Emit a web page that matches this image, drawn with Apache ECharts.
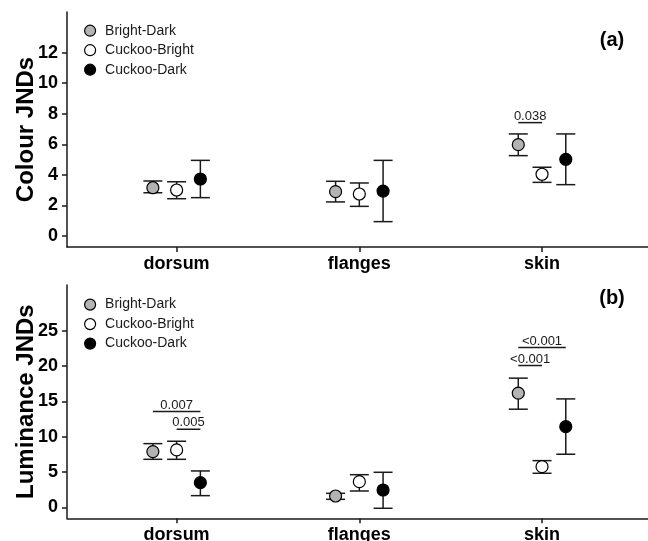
<!DOCTYPE html>
<html>
<head>
<meta charset="utf-8">
<script src="https://cdn.jsdelivr.net/npm/echarts@6/dist/echarts.min.js"></script>
<style>
html,body{margin:0;padding:0;background:#fff;}
#chart{width:648px;height:541px;}
</style>
</head>
<body>
<div id="chart"></div>
<script>
// ---- data ----
const categories = ['dorsum', 'flanges', 'skin'];
const groups = ['Bright-Dark', 'Cuckoo-Bright', 'Cuckoo-Dark'];
const groupFill = ['#b3b3b3', '#ffffff', '#000000'];
const groupOffset = [-0.13, 0, 0.13];

// Panel (a) colour JNDs
const colourBD = [3.16, 2.90, 5.98];
const colourBDlo = [2.83, 2.23, 5.26];
const colourBDhi = [3.60, 3.58, 6.68];
const colourCB = [3.01, 2.75, 4.04];
const colourCBlo = [2.44, 1.94, 3.51];
const colourCBhi = [3.55, 3.47, 4.50];
const colourCD = [3.73, 2.94, 5.02];
const colourCDlo = [2.51, 0.94, 3.36];
const colourCDhi = [4.95, 4.95, 6.68];
const colourTicks = [0, 2, 4, 6, 8, 10, 12];
// [category, fromGroup, toGroup, y, label]
const colourSig = [[2, 0, 1, 7.42, '0.038']];

// Panel (b) luminance JNDs
const lumBD = [7.89, 1.60, 16.17];
const lumBDlo = [6.80, 1.13, 13.90];
const lumBDhi = [9.02, 1.98, 18.30];
const lumCB = [8.13, 3.63, 5.76];
const lumCBlo = [6.80, 2.31, 4.82];
const lumCBhi = [9.36, 4.62, 6.61];
const lumCD = [3.49, 2.45, 11.43];
const lumCDlo = [1.65, -0.14, 7.52];
const lumCDhi = [5.15, 4.96, 15.36];
const lumTicks = [0, 5, 10, 15, 20, 25];
const lumSig = [
  [0, 0, 2, 13.56, '0.007'],
  [0, 1, 2, 11.06, '0.005'],
  [2, 0, 2, 22.64, '<0.001'],
  [2, 0, 1, 20.09, '<0.001']
];

// ---- helpers ----
const FONT = "'Liberation Sans', Arial, sans-serif";
const INK = '#1a1a1a';
function xPos(cat, g) { return cat + 1 + groupOffset[g]; }

function pointData(vals, g) { return vals.map((v, i) => [xPos(i, g), v]); }
function errData(lo, hi, g) { return lo.map((l, i) => [xPos(i, g), l, hi[i]]); }
function sigData(sig) { return sig.map(s => [xPos(s[0], s[1]), xPos(s[0], s[2]), s[3]]); }
const sigSource = { sigA: colourSig, sigB: lumSig };

function errRender(params, api) {
  const x = api.value(0), lo = api.value(1), hi = api.value(2);
  const a = api.coord([x, lo]), b = api.coord([x, hi]);
  const w = 9.5;
  const st = { stroke: INK, lineWidth: 1.5 };
  return { type: 'group', children: [
    { type: 'line', shape: { x1: a[0], y1: a[1], x2: b[0], y2: b[1] }, style: st },
    { type: 'line', shape: { x1: a[0] - w, y1: a[1], x2: a[0] + w, y2: a[1] }, style: st },
    { type: 'line', shape: { x1: b[0] - w, y1: b[1], x2: b[0] + w, y2: b[1] }, style: st }
  ]};
}
function sigRender(params, api) {
  const x1 = api.value(0), x2 = api.value(1), y = api.value(2);
  const label = sigSource[params.seriesName][params.dataIndex][4];
  const a = api.coord([x1, y]), b = api.coord([x2, y]);
  return { type: 'group', children: [
    { type: 'line', shape: { x1: a[0], y1: a[1], x2: b[0], y2: b[1] }, style: { stroke: INK, lineWidth: 1.5 } },
    { type: 'text', style: { text: label, x: (a[0] + b[0]) / 2, y: a[1] - 6.5, align: 'center', verticalAlign: 'middle',
      font: '13px ' + FONT, fill: INK } }
  ]};
}

const panels = [
  { means: [colourBD, colourCB, colourCD], lo: [colourBDlo, colourCBlo, colourCDlo], hi: [colourBDhi, colourCBhi, colourCDhi], sig: 'sigA' },
  { means: [lumBD, lumCB, lumCD], lo: [lumBDlo, lumCBlo, lumCDlo], hi: [lumBDhi, lumCBhi, lumCDhi], sig: 'sigB' }
];

const series = [];
panels.forEach((p, k) => {
  for (let g = 0; g < 3; g++) {
    series.push({
      type: 'custom', name: 'err' + k + g, xAxisIndex: k, yAxisIndex: k, z: 2,
      renderItem: errRender, data: errData(p.lo[g], p.hi[g], g), silent: true
    });
  }
  for (let g = 0; g < 3; g++) {
    series.push({
      type: 'scatter', name: groups[g], xAxisIndex: k, yAxisIndex: k, z: 3,
      symbol: 'circle', symbolSize: 12,
      itemStyle: { color: groupFill[g], borderColor: '#000', borderWidth: 1.2, opacity: 1 },
      data: pointData(p.means[g], g)
    });
  }
  series.push({
    type: 'custom', name: p.sig, xAxisIndex: k, yAxisIndex: k, z: 2,
    renderItem: sigRender, data: sigData(sigSource[p.sig]), silent: true
  });
});

function xAxisCfg(k) {
  return {
    type: 'value', gridIndex: k, min: 0.4, max: 3.58,
    splitLine: { show: false },
    axisLine: { show: true, onZero: false, lineStyle: { color: INK, width: 1.5 } },
    axisTick: { show: true, length: 5, lineStyle: { color: INK, width: 1.5 }, customValues: [1, 2, 3] },
    axisLabel: { customValues: [1, 2, 3], formatter: v => categories[Math.round(v) - 1],
      fontFamily: FONT, fontSize: 18, fontWeight: 'bold', color: '#000', margin: 8 }
  };
}
function yAxisCfg(k, min, max, ticks, name) {
  return {
    type: 'value', gridIndex: k, min: min, max: max,
    name: name, nameLocation: 'middle', nameGap: 29, nameMoveOverlap: false,
    nameTextStyle: { fontFamily: FONT, fontSize: 24, fontWeight: 'bold', color: '#000' },
    splitLine: { show: false },
    axisLine: { show: true, onZero: false, lineStyle: { color: INK, width: 1.5 } },
    axisTick: { show: true, length: 5, lineStyle: { color: INK, width: 1.5 }, customValues: ticks },
    axisLabel: { customValues: ticks, fontFamily: FONT, fontSize: 18, fontWeight: 'bold', color: '#000', margin: 9 }
  };
}
function legendCfg(top) {
  return {
    data: groups, orient: 'vertical', left: 84, top: top, padding: 0, icon: 'circle',
    itemWidth: 20, itemHeight: 11, itemGap: 5.5, selectedMode: false,
    itemStyle: { borderColor: '#000', borderWidth: 1.2 },
    textStyle: { fontFamily: FONT, fontSize: 14, color: INK }
  };
}

const chart = echarts.init(document.getElementById('chart'), null, { renderer: 'canvas' });
chart.setOption({
  animation: false,
  backgroundColor: '#fff',
  grid: [
    { left: 67, right: 0, top: 12, height: 235, containLabel: false, outerBoundsMode: 'none' },
    { left: 67, right: 0, top: 285, height: 233.3, containLabel: false, outerBoundsMode: 'none' }
  ],
  xAxis: [xAxisCfg(0), xAxisCfg(1)],
  yAxis: [
    yAxisCfg(0, -0.72, 14.66, colourTicks, 'Colour JNDs'),
    yAxisCfg(1, -1.56, 31.5, lumTicks, 'Luminance JNDs')
  ],
  legend: [legendCfg(23.7), legendCfg(297.6)],
  graphic: [
    { type: 'text', x: 612, y: 40, style: { text: '(a)', font: 'bold 20px ' + FONT, fill: '#000', align: 'center', verticalAlign: 'middle' } },
    { type: 'text', x: 612, y: 298, style: { text: '(b)', font: 'bold 20px ' + FONT, fill: '#000', align: 'center', verticalAlign: 'middle' } }
  ],
  series: series
});
</script>
</body>
</html>
